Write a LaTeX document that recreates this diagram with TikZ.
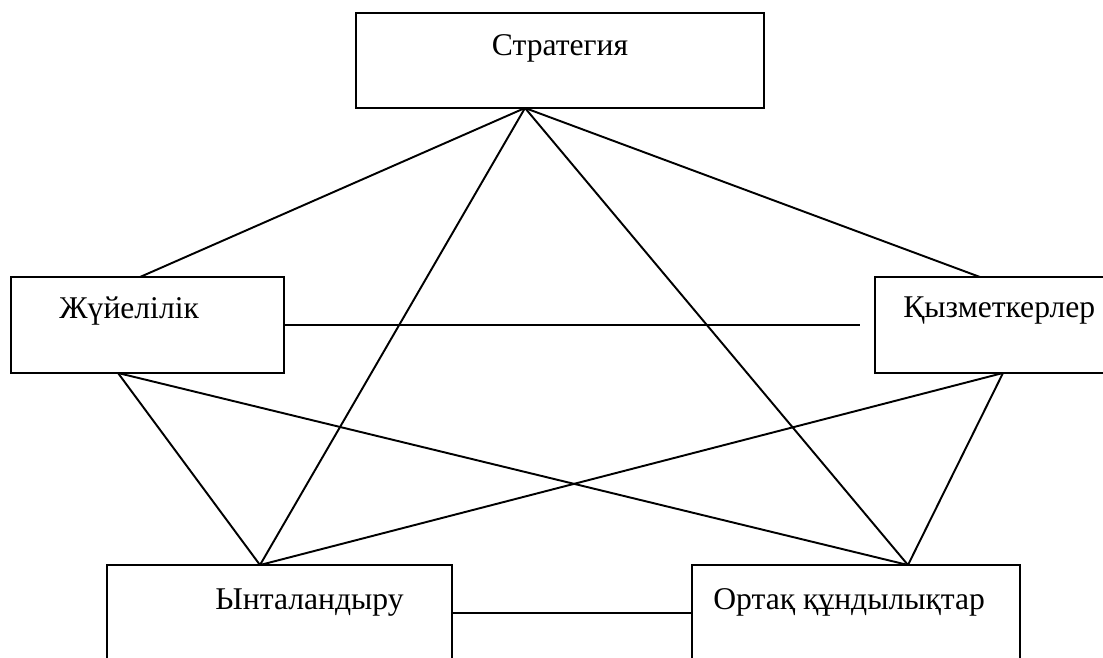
\documentclass[tikz,border=0pt]{standalone}
\usepackage{fontspec}
\setmainfont{Liberation Serif}
\usepackage{tikz}

\begin{document}
\begin{tikzpicture}[
    x=0.02cm, y=-0.02cm,
    box/.style={rectangle, draw, line width=1.2pt, inner sep=0pt, outer sep=0pt},
    lbl/.style={font=\fontsize{18}{21}\selectfont, inner sep=0pt},
    link/.style={line width=1.1pt}
]
    \useasboundingbox (0,0) rectangle (1103,657);

    % boxes
    \node[box, minimum width=8.16cm, minimum height=1.9cm] (strat) at (560,60.5) {};
    \node[box, minimum width=5.46cm, minimum height=1.92cm] (sys) at (147.5,325) {};
    \node[box, minimum width=5.12cm, minimum height=1.92cm] (staff) at (1003,325) {};
    \node[box, minimum width=6.9cm, minimum height=1.92cm] (motiv) at (279.5,613) {};
    \node[box, minimum width=6.56cm, minimum height=1.92cm] (values) at (856,613) {};

    % texts
    \node[lbl, anchor=base] (stratT) at (560,55) {Стратегия};
    \node[lbl, anchor=base west] (sysT) at (59,318) {Жүйелілік};
    \node[lbl, anchor=base west] (staffT) at (903,317) {Қызметкерлер};
    \node[lbl, anchor=base west] (motivT) at (215,609) {Ынталандыру};
    \node[lbl, anchor=base west] (valuesT) at (713,609) {Ортақ құндылықтар};

    % connectors
    \draw[link] ([xshift=-0.7cm]strat.south) -- ([xshift=-0.15cm]sys.north);
    \draw[link] ([xshift=-0.7cm]strat.south) -- ([xshift=-0.46cm]staff.north);
    \draw[link] ([xshift=-0.7cm]strat.south) -- ([xshift=-0.39cm]motiv.north);
    \draw[link] ([xshift=-0.7cm]strat.south) -- ([xshift=1.04cm]values.north);
    \draw[link] ([xshift=-0.59cm]sys.south) -- ([xshift=-0.39cm]motiv.north);
    \draw[link] ([xshift=-0.59cm]sys.south) -- ([xshift=1.04cm]values.north);
    \draw[link] (staff.south) -- ([xshift=-0.39cm]motiv.north);
    \draw[link] (staff.south) -- ([xshift=1.04cm]values.north);
    \draw[link, shorten >=0.3cm] (sys.east) -- (staff.west);
    \draw[link] (motiv.east) -- (values.west);
\end{tikzpicture}
\end{document}
